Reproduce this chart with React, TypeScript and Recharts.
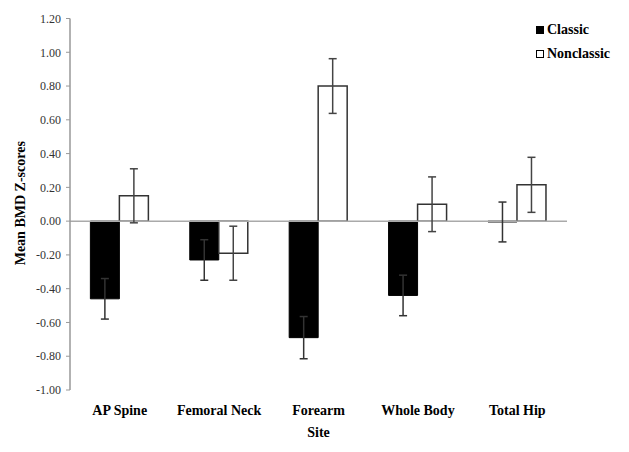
import React from 'react';
import { BarChart, Bar, XAxis, YAxis, ErrorBar, ReferenceLine, Label } from 'recharts';

const sites = ['AP Spine', 'Femoral Neck', 'Forearm', 'Whole Body', 'Total Hip'];
const classic = [-0.46, -0.23, -0.69, -0.44, -0.005];
const classicErr = [0.12, 0.12, 0.125, 0.12, 0.118];
const nonclassic = [0.15, -0.19, 0.8, 0.1, 0.215];
const nonclassicErr = [0.16, 0.16, 0.162, 0.162, 0.163];
const yTicks = [-1, -0.8, -0.6, -0.4, -0.2, 0, 0.2, 0.4, 0.6, 0.8, 1.0, 1.2];

const data = sites.map((s, i) => ({
  site: s,
  classic: classic[i],
  classicErr: classicErr[i],
  nonclassic: nonclassic[i],
  nonclassicErr: nonclassicErr[i],
}));

const FONT = '"Liberation Serif", "Times New Roman", serif';

const legendItems = [
  { name: 'Classic', fill: '#000' },
  { name: 'Nonclassic', fill: '#fff' },
];

const LegendBox = () => (
  <div
    style={{
      position: 'absolute',
      left: 536,
      top: 18,
      fontFamily: FONT,
      fontWeight: 'bold',
      fontSize: 14,
      color: '#000',
    }}
  >
    {legendItems.map((it) => (
      <div key={it.name} style={{ display: 'flex', alignItems: 'center', height: 24 }}>
        <div
          style={{
            width: 6,
            height: 6,
            background: it.fill,
            border: '1px solid #000',
            marginRight: 3,
          }}
        />
        <span>{it.name}</span>
      </div>
    ))}
  </div>
);

const YTitle = (props: any) => {
  const vb = props.viewBox || {};
  const cx = 20;
  const cy = vb.y + vb.height / 2 - 1;
  return (
    <text
      x={cx}
      y={cy}
      transform={`rotate(-90, ${cx}, ${cy})`}
      textAnchor="middle"
      dominantBaseline="central"
      fontFamily={FONT}
      fontWeight="bold"
      fontSize={14}
      fill="#000"
    >
      Mean BMD Z-scores
    </text>
  );
};

export default function App() {
  return (
    <div style={{ position: 'absolute', left: 0, top: 0, width: 629, height: 452, background: '#fff' }}>
      <BarChart
        width={629}
        height={452}
        data={data}
        margin={{ top: 18.5, right: 62, bottom: 12, left: 0 }}
        barCategoryGap="20.5%"
        barGap={0}
      >
        <XAxis
          dataKey="site"
          axisLine={false}
          tickLine={false}
          height={50}
          tickMargin={9}
          tick={{ fontFamily: FONT, fontWeight: 'bold', fontSize: 14, fill: '#000' }}
          interval={0}
        >
          <Label
            value="Site"
            position="insideBottom"
            offset={3}
            style={{ fontFamily: FONT, fontWeight: 'bold', fontSize: 14, fill: '#000' }}
          />
        </XAxis>
        <YAxis
          width={70}
          domain={[-1, 1.2]}
          ticks={yTicks}
          interval={0}
          tickFormatter={(v: number) => v.toFixed(2)}
          axisLine={{ stroke: '#999', strokeWidth: 1.5 }}
          tickLine={{ stroke: '#999', strokeWidth: 1 }}
          tickSize={4}
          tickMargin={5}
          tick={{ fontFamily: FONT, fontSize: 12, fill: '#333' }}
        >
          <Label content={<YTitle />} />
        </YAxis>
        <ReferenceLine y={0} stroke="#aaa" strokeWidth={1.5} />
        <Bar dataKey="classic" name="Classic" fill="#000" stroke="#000" strokeWidth={1} isAnimationActive={false}>
          <ErrorBar dataKey="classicErr" width={4} stroke="#333" strokeWidth={1.5} />
        </Bar>
        <Bar dataKey="nonclassic" name="Nonclassic" fill="#fff" stroke="#333" strokeWidth={1.5} isAnimationActive={false}>
          <ErrorBar dataKey="nonclassicErr" width={4} stroke="#444" strokeWidth={1.5} />
        </Bar>
      </BarChart>
      <LegendBox />
    </div>
  );
}
